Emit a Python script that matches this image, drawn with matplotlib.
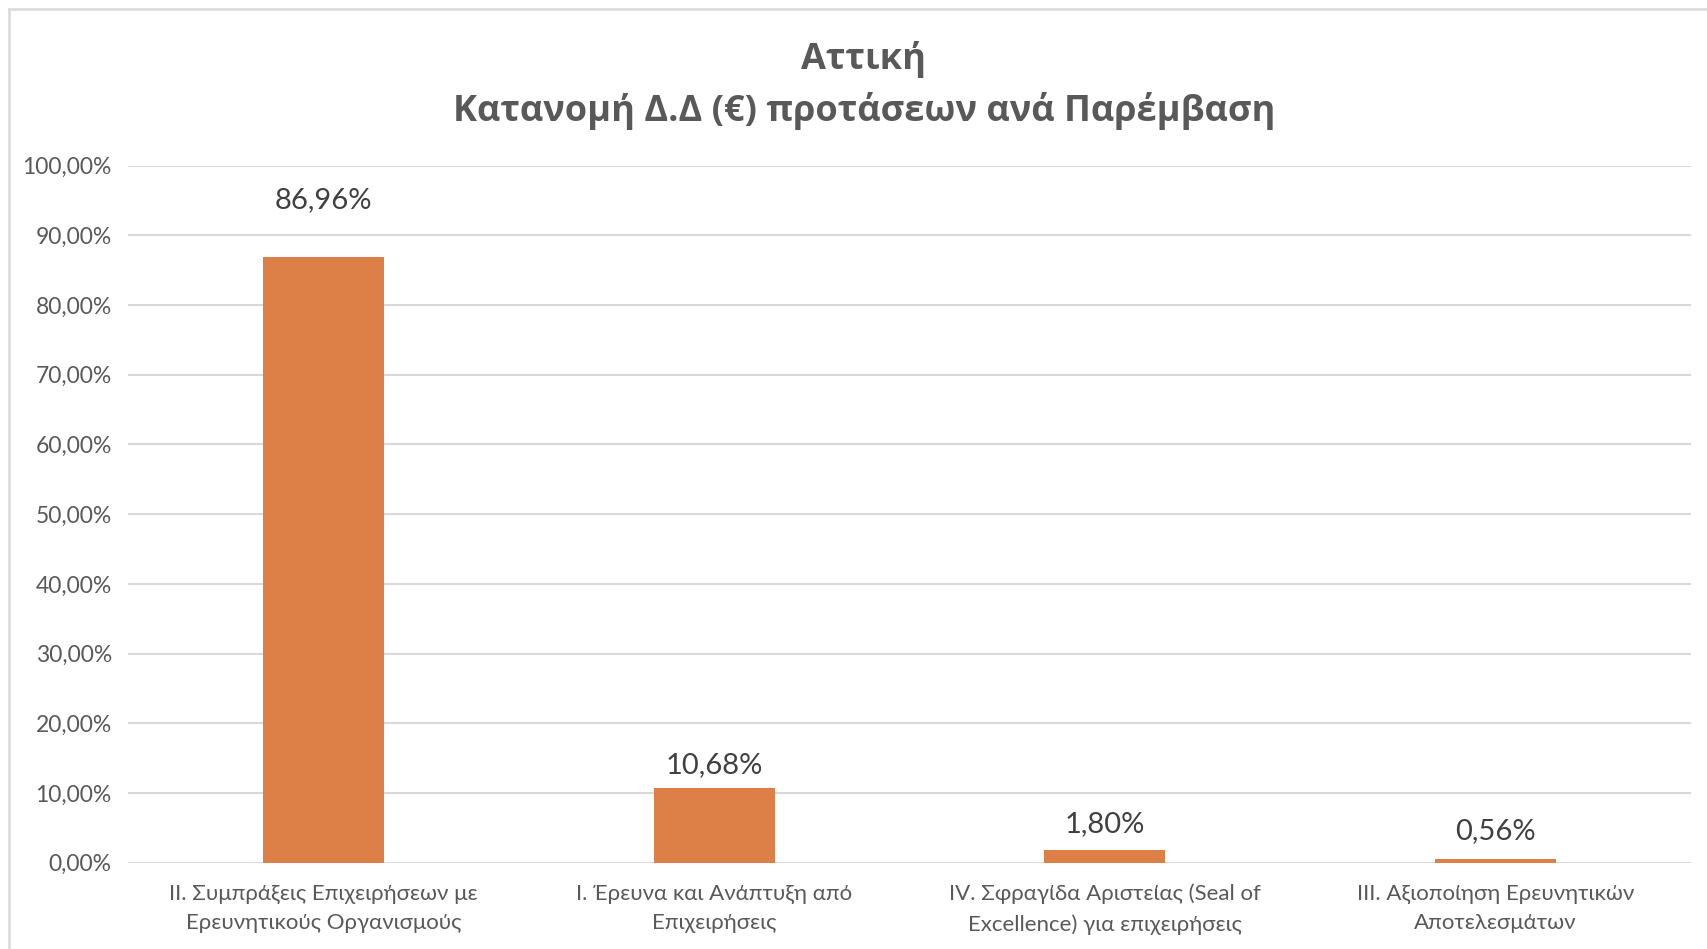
import matplotlib.pyplot as plt
from matplotlib.lines import Line2D
import numpy as np

categories = [
    "ΙΙ. Συμπράξεις Επιχειρήσεων με\nΕρευνητικούς Οργανισμούς",
    "Ι. Έρευνα και Ανάπτυξη από\nΕπιχειρήσεις",
    "IV. Σφραγίδα Αριστείας (Seal of\nExcellence) για επιχειρήσεις",
    "ΙΙΙ. Αξιοποίηση Ερευνητικών\nΑποτελεσμάτων",
]
values = [86.96, 10.68, 1.80, 0.56]
yticks = [0, 10, 20, 30, 40, 50, 60, 70, 80, 90, 100]
# gap between bar top and its label, in points (as placed in the original)
label_gap = [41, 17, 19, 20]

W, H = 1708, 949
fig = plt.figure(figsize=(W / 100, H / 100), dpi=100)
ax = fig.add_axes([128.5 / W, 1 - 862.7 / H, (1690.6 - 128.5) / W, (862.7 - 165.6) / H])

x = np.arange(len(categories))
ax.bar(x, values, width=0.31, color="#dd8047", zorder=3)

ax.set_xlim(-0.5, len(categories) - 0.5)
ax.set_ylim(0, 100)
ax.set_yticks(yticks)
ax.set_yticklabels([f"{t:.2f}".replace(".", ",") + "%" for t in yticks],
                   fontsize=16.5, color="#595959", family="Lato")
ax.set_xticks(x)
ax.set_xticklabels(categories, fontsize=16, color="#595959", family="Lato",
                   linespacing=1.6)
ax.tick_params(axis="both", length=0)
ax.tick_params(axis="y", pad=12)
ax.tick_params(axis="x", pad=15)

ax.grid(axis="y", color="#d9d9d9", linewidth=1.5, zorder=0)
for s in ax.spines.values():
    s.set_visible(False)

for xi, v, g in zip(x, values, label_gap):
    ax.annotate(f"{v:.2f}".replace(".", ",") + "%", (xi, v), xytext=(0, g),
                textcoords="offset points", ha="center", va="center",
                fontsize=21, color="#404040", family="Lato")

fig.text(0.5 + 10 / W, 1 - 59 / H, "Αττική", ha="center", va="center",
         fontsize=26, fontweight="bold", color="#595959", family="Open Sans")
fig.text(0.5 + 10 / W, 1 - 111 / H, "Κατανομή Δ.Δ (€) προτάσεων ανά Παρέμβαση",
         ha="center", va="center", fontsize=26, fontweight="bold", color="#595959",
         family="Open Sans")

# chart border (top and left visible)
fig.add_artist(Line2D([8.5 / W, 1], [1 - 8.7 / H, 1 - 8.7 / H], color="#d9d9d9", linewidth=1.8))
fig.add_artist(Line2D([8.5 / W, 8.5 / W], [1 - 8.7 / H, 1 - 948 / H], color="#d9d9d9", linewidth=1.8))

fig.savefig("out.png", dpi=100, facecolor="white")
